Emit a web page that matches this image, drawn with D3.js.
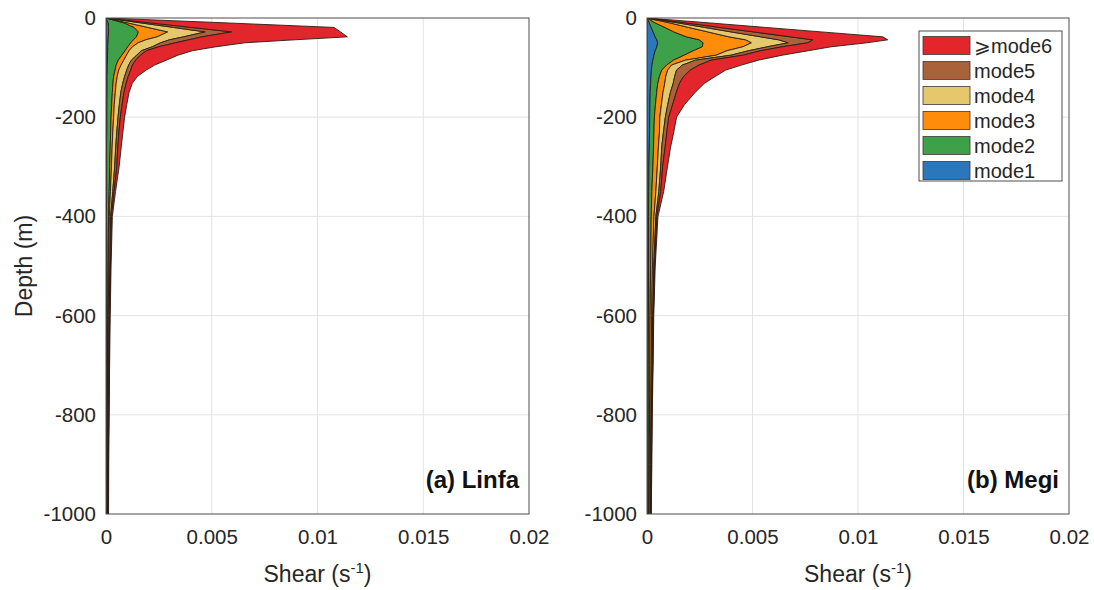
<!DOCTYPE html>
<html>
<head>
<meta charset="utf-8">
<script src="https://cdn.jsdelivr.net/npm/d3@7/dist/d3.min.js"></script>
<style>
  html, body { margin: 0; padding: 0; background: #fff; }
  svg { display: block; font-family: "Liberation Sans", Arial, Helvetica, sans-serif; }
</style>
</head>
<body>
<svg id="chart" width="1094" height="590"></svg>
<script>
  // depth levels (m), shared by both panels
  var depth = [0, -10, -19, -28, -38, -44, -50, -58, -66, -75, -85, -95, -105, -118, -132,
    -150, -175, -200, -230, -260, -300, -350, -400, -500, -600, -700, -800, -900, -1000];

  var modes = ['mode1', 'mode2', 'mode3', 'mode4', 'mode5', 'mode6'];
  var modeNames = ['mode1', 'mode2', 'mode3', 'mode4', 'mode5', '\u2A7Emode6'];
  var modeColors = ['#2a77bb', '#3ea149', '#ff8c0a', '#e6c86c', '#a9623a', '#e2262b'];

  var xTicks = [0, 0.005, 0.01, 0.015, 0.02];
  var xTickLabels = ['0', '0.005', '0.01', '0.015', '0.02'];
  var yTicks = [0, -200, -400, -600, -800, -1000];
  var yTickLabels = ['0', '-200', '-400', '-600', '-800', '-1000'];

  // (a) Linfa, shear per mode (s^-1)
  var linfaMode1 = [0, 0.00011, 0.00012, 0.00012, 0.00011, 0.00010, 0.00009, 0.00008, 0.00008, 0.00007, 0.00007, 0.00006, 0.00006, 0.00005, 0.00005,
    0.00005, 0.00004, 0.00004, 0.00004, 0.00003, 0.00003, 0.00003, 0.00002, 0.00002, 0.00002, 0.00002, 0.00002, 0.00002, 0.00002];
  var linfaMode2 = [0, 0.00075, 0.00121, 0.00141, 0.00133, 0.00120, 0.00108, 0.00095, 0.00082, 0.00068, 0.00051, 0.00042, 0.00037, 0.00031, 0.00028,
    0.00025, 0.00023, 0.00020, 0.00018, 0.00017, 0.00015, 0.00012, 0.00010, 0.00008, 0.00006, 0.00005, 0.00004, 0.00004, 0.00003];
  var linfaMode3 = [0, 0.00019, 0.00065, 0.00139, 0.00098, 0.00058, 0.00035, 0.00022, 0.00019, 0.00022, 0.00026, 0.00023, 0.00017, 0.00017, 0.00015,
    0.00014, 0.00012, 0.00012, 0.00010, 0.00009, 0.00008, 0.00006, 0.00004, 0.00003, 0.00003, 0.00003, 0.00003, 0.00002, 0.00002];
  var linfaMode4 = [0, 0.00062, 0.00121, 0.00177, 0.00125, 0.00112, 0.00106, 0.00094, 0.00058, 0.00048, 0.00036, 0.00036, 0.00038, 0.00035, 0.00031,
    0.00026, 0.00024, 0.00021, 0.00019, 0.00017, 0.00015, 0.00011, 0.00006, 0.00005, 0.00004, 0.00003, 0.00002, 0.00002, 0.00002];
  var linfaMode5 = [0, 0.00045, 0.00084, 0.00125, 0.00086, 0.00091, 0.00070, 0.00030, 0.00024, 0.00018, 0.00020, 0.00018, 0.00019, 0.00017, 0.00016,
    0.00015, 0.00013, 0.00011, 0.00010, 0.00010, 0.00010, 0.00006, 0.00004, 0.00003, 0.00002, 0.00002, 0.00002, 0.00001, 0.00001];
  var linfaMode6 = [0, 0.00366, 0.00675, 0.00515, 0.00688, 0.00500, 0.00328, 0.00271, 0.00217, 0.00177, 0.00145, 0.00105, 0.00073, 0.00043, 0.00029,
    0.00024, 0.00022, 0.00020, 0.00019, 0.00016, 0.00011, 0.00007, 0.00004, 0.00003, 0.00003, 0.00002, 0.00002, 0.00002, 0.00002];

  // (b) Megi, shear per mode (s^-1)
  var megiMode1 = [0, 0.00011, 0.00020, 0.00029, 0.00039, 0.00047, 0.00050, 0.00047, 0.00039, 0.00033, 0.00028, 0.00023, 0.00021, 0.00019, 0.00017,
    0.00015, 0.00014, 0.00013, 0.00012, 0.00011, 0.00009, 0.00008, 0.00007, 0.00007, 0.00007, 0.00006, 0.00006, 0.00006, 0.00006];
  var megiMode2 = [0, 0.00028, 0.00065, 0.00098, 0.00148, 0.00201, 0.00216, 0.00215, 0.00181, 0.00143, 0.00098, 0.00070, 0.00049, 0.00040, 0.00034,
    0.00031, 0.00026, 0.00022, 0.00021, 0.00020, 0.00019, 0.00015, 0.00013, 0.00010, 0.00008, 0.00007, 0.00006, 0.00005, 0.00004];
  var megiMode3 = [0, 0.00070, 0.00112, 0.00161, 0.00201, 0.00220, 0.00229, 0.00192, 0.00159, 0.00152, 0.00056, 0.00023, 0.00028, 0.00030, 0.00033,
    0.00030, 0.00028, 0.00026, 0.00026, 0.00023, 0.00021, 0.00019, 0.00013, 0.00009, 0.00007, 0.00007, 0.00006, 0.00005, 0.00005];
  var megiMode4 = [0, 0.00039, 0.00077, 0.00110, 0.00151, 0.00156, 0.00174, 0.00117, 0.00103, 0.00070, 0.00047, 0.00051, 0.00042, 0.00042, 0.00040,
    0.00035, 0.00030, 0.00026, 0.00019, 0.00016, 0.00016, 0.00014, 0.00009, 0.00006, 0.00005, 0.00004, 0.00003, 0.00003, 0.00002];
  var megiMode5 = [0, 0.00037, 0.00070, 0.00105, 0.00140, 0.00162, 0.00093, 0.00070, 0.00056, 0.00056, 0.00075, 0.00079, 0.00065, 0.00042, 0.00030,
    0.00028, 0.00023, 0.00016, 0.00016, 0.00016, 0.00009, 0.00009, 0.00005, 0.00004, 0.00003, 0.00003, 0.00002, 0.00002, 0.00002];
  var megiMode6 = [0, 0.00115, 0.00218, 0.00322, 0.00439, 0.00355, 0.00280, 0.00232, 0.00226, 0.00187, 0.00224, 0.00201, 0.00168, 0.00150, 0.00117,
    0.00089, 0.00056, 0.00037, 0.00033, 0.00026, 0.00023, 0.00014, 0.00005, 0.00003, 0.00002, 0.00002, 0.00002, 0.00002, 0.00001];

  var svg = d3.select('#chart');
  var plotTop = 18, plotBottom = 514;
  var textColor = '#262626';

  function buildRows(series) {
    return depth.map(function (dep, i) {
      var row = { depth: dep };
      modes.forEach(function (m, k) { row[m] = series[k][i]; });
      return row;
    });
  }

  function drawPanel(cfg) {
    var x = d3.scaleLinear().domain([0, 0.02]).range([cfg.left, cfg.right]);
    var y = d3.scaleLinear().domain([-1000, 0]).range([plotBottom, plotTop]);
    var g = svg.append('g');

    // grid
    g.append('g').selectAll('line')
      .data(xTicks.slice(1, -1))
      .enter().append('line')
      .attr('x1', function (d) { return x(d); })
      .attr('x2', function (d) { return x(d); })
      .attr('y1', plotTop).attr('y2', plotBottom)
      .attr('stroke', '#e3e3e3').attr('stroke-width', 1);
    g.append('g').selectAll('line')
      .data(yTicks.slice(1, -1))
      .enter().append('line')
      .attr('x1', cfg.left).attr('x2', cfg.right)
      .attr('y1', function (d) { return y(d); })
      .attr('y2', function (d) { return y(d); })
      .attr('stroke', '#e3e3e3').attr('stroke-width', 1);

    var clipId = 'clip-' + cfg.id;
    g.append('clipPath').attr('id', clipId)
      .append('rect')
      .attr('x', cfg.left).attr('y', plotTop)
      .attr('width', cfg.right - cfg.left).attr('height', plotBottom - plotTop);

    var stacked = d3.stack().keys(modes)(buildRows(cfg.series));
    var area = d3.area()
      .y(function (d) { return y(d.data.depth); })
      .x0(function (d) { return x(d[0]); })
      .x1(function (d) { return x(d[1]); });

    g.append('g').attr('clip-path', 'url(#' + clipId + ')')
      .selectAll('path')
      .data(stacked)
      .enter().append('path')
      .attr('d', area)
      .attr('fill', function (d, i) { return modeColors[i]; })
      .attr('stroke', '#2a1d14')
      .attr('stroke-width', 0.9)
      .attr('stroke-linejoin', 'round');

    // box
    g.append('rect')
      .attr('x', cfg.left).attr('y', plotTop)
      .attr('width', cfg.right - cfg.left).attr('height', plotBottom - plotTop)
      .attr('fill', 'none').attr('stroke', '#4d4d4d').attr('stroke-width', 1);

    var xAxis = d3.axisBottom(x).tickValues(xTicks).tickSize(0).tickPadding(15)
      .tickFormat(function (d, i) { return xTickLabels[i]; });
    var xg = g.append('g').attr('transform', 'translate(0,' + plotBottom + ')').call(xAxis);
    xg.select('.domain').remove();
    xg.selectAll('text').style('font-size', '20.5px').style('fill', textColor);

    var yAxis = d3.axisLeft(y).tickValues(yTicks).tickSize(0).tickPadding(10)
      .tickFormat(function (d, i) { return yTickLabels[i]; });
    var yg = g.append('g').attr('transform', 'translate(' + cfg.left + ',0)').call(yAxis);
    yg.select('.domain').remove();
    yg.selectAll('text').style('font-size', '20.5px').style('fill', textColor);

    var xt = g.append('text')
      .attr('x', (cfg.left + cfg.right) / 2).attr('y', 582)
      .attr('text-anchor', 'middle')
      .style('font-size', '23px').style('fill', textColor);
    xt.append('tspan').text('Shear (s');
    xt.append('tspan').attr('dy', -9).style('font-size', '15px').text('-1');
    xt.append('tspan').attr('dy', 9).text(')');

    g.append('text')
      .attr('x', cfg.right - 10).attr('y', 488)
      .attr('text-anchor', 'end')
      .style('font-size', '24px').style('font-weight', 'bold').style('fill', '#111')
      .text(cfg.label);
  }

  drawPanel({
    id: 'a', left: 106, right: 529, label: '(a) Linfa',
    series: [linfaMode1, linfaMode2, linfaMode3, linfaMode4, linfaMode5, linfaMode6]
  });
  drawPanel({
    id: 'b', left: 647, right: 1069, label: '(b) Megi',
    series: [megiMode1, megiMode2, megiMode3, megiMode4, megiMode5, megiMode6]
  });

  svg.append('text')
    .attr('transform', 'translate(32,' + ((plotTop + plotBottom) / 2) + ') rotate(-90)')
    .attr('text-anchor', 'middle')
    .style('font-size', '23px').style('fill', textColor)
    .text('Depth (m)');

  // legend, top entry is the last mode
  var lg = svg.append('g').attr('transform', 'translate(919,31)');
  lg.append('rect')
    .attr('width', 143).attr('height', 150)
    .attr('fill', '#fff').attr('stroke', '#4d4d4d').attr('stroke-width', 1);
  var order = d3.range(modes.length).reverse();
  var item = lg.selectAll('g')
    .data(order)
    .enter().append('g')
    .attr('transform', function (d, i) { return 'translate(4,' + (5.5 + i * 25) + ')'; });
  item.append('rect')
    .attr('width', 47).attr('height', 18)
    .attr('fill', function (d) { return modeColors[d]; })
    .attr('stroke', '#3a3a3a').attr('stroke-width', 0.8);
  item.append('text')
    .attr('x', 51).attr('y', 16)
    .style('font-size', '20px').style('fill', textColor)
    .text(function (d) { return modeNames[d]; });
</script>
</body>
</html>
